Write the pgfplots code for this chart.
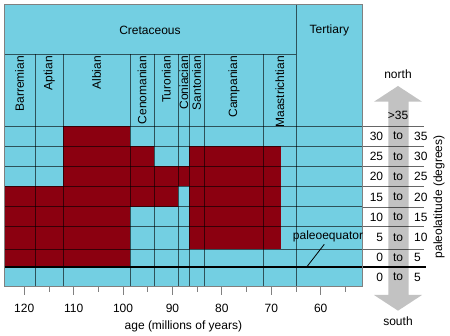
\documentclass[border=0pt]{standalone}
\usepackage{fontspec}
\setmainfont{Liberation Sans}
\usepackage{pgfplots}
\pgfplotsset{compat=1.18}
\definecolor{cyanc}{HTML}{73CFE2}
\definecolor{redc}{HTML}{8B0010}
\definecolor{arrowc}{HTML}{C2C2C2}
\tikzset{gl/.style={black, opacity=0.6, line width=0.8pt}}
\begin{document}
\fontsize{12}{14}\selectfont
\begin{tikzpicture}
\begin{axis}[name=ax, width=358.7pt, height=282.7pt, scale only axis,
  x dir=reverse, xmin=51.5, xmax=124.1, ymin=-4.89, ymax=65.26,
  axis background/.style={fill=cyanc},
  axis line style={draw=gray, line width=0.8pt},
  xtick={60,70,...,120}, minor xtick={55,65,...,115},
  xtick pos=left, tick align=outside,
  major tick length=8pt, minor tick length=5pt,
  every tick/.style={gray, line width=0.8pt},
  xticklabel style={yshift=-5pt},
  ytick=\empty,
  xlabel={age (millions of years)},
  /pgf/number format/assume math mode=true,
  clip=false, axis on top]
% red cells (age from, age to, lat from, lat to)
% 30-35
\addplot[fill=redc, draw=none] coordinates {(112.1,30) (98.6,30) (98.6,35) (112.1,35)} --cycle;
% 25-30
\addplot[fill=redc, draw=none] coordinates {(112.1,25) (93.7,25) (93.7,30) (112.1,30)} --cycle;
\addplot[fill=redc, draw=none] coordinates {(86.6,25) (68.1,25) (68.1,30) (86.6,30)} --cycle;
% 20-25
\addplot[fill=redc, draw=none] coordinates {(112.1,20) (68.1,20) (68.1,25) (112.1,25)} --cycle;
% 15-20
\addplot[fill=redc, draw=none] coordinates {(124.1,15) (88.8,15) (88.8,20) (124.1,20)} --cycle;
\addplot[fill=redc, draw=none] coordinates {(86.6,15) (68.1,15) (68.1,20) (86.6,20)} --cycle;
% 10-15
\addplot[fill=redc, draw=none] coordinates {(124.1,10) (98.6,10) (98.6,15) (124.1,15)} --cycle;
\addplot[fill=redc, draw=none] coordinates {(86.6,10) (68.1,10) (68.1,15) (86.6,15)} --cycle;
% 5-10
\addplot[fill=redc, draw=none] coordinates {(124.1,4.4) (98.6,4.4) (98.6,10) (124.1,10)} --cycle;
\addplot[fill=redc, draw=none] coordinates {(86.6,4.4) (68.1,4.4) (68.1,10) (86.6,10)} --cycle;
% 0-5
\addplot[fill=redc, draw=none] coordinates {(124.1,0) (98.6,0) (98.6,4.4) (124.1,4.4)} --cycle;
% horizontal grid lines
\addplot[gl] coordinates {(124.1,35) (51.5,35)};
\addplot[gl] coordinates {(124.1,30) (51.5,30)};
\addplot[gl] coordinates {(124.1,25) (51.5,25)};
\addplot[gl] coordinates {(124.1,20) (51.5,20)};
\addplot[gl] coordinates {(124.1,15) (51.5,15)};
\addplot[gl] coordinates {(124.1,10) (51.5,10)};
\addplot[gl] coordinates {(124.1,4.4) (51.5,4.4)};
\addplot[gl] coordinates {(124.1,52.85) (65,52.85)};
% stage boundaries
\addplot[gl] coordinates {(117.8,52.85) (117.8,-4.89)};
\addplot[gl] coordinates {(112.1,52.85) (112.1,-4.89)};
\addplot[gl] coordinates {(98.6,52.85) (98.6,-4.89)};
\addplot[gl] coordinates {(93.7,52.85) (93.7,-4.89)};
\addplot[gl] coordinates {(88.8,52.85) (88.8,-4.89)};
\addplot[gl] coordinates {(86.6,52.85) (86.6,-4.89)};
\addplot[gl] coordinates {(83.6,52.85) (83.6,-4.89)};
\addplot[gl] coordinates {(71.5,52.85) (71.5,-4.89)};
\addplot[gl] coordinates {(65,65.26) (65,-4.89)};
% paleoequator
\addplot[black, line width=2pt] coordinates {(124.1,0) (51.5,0)};
% labels
\node at (axis cs:94.55,58.8) {Cretaceous};
\node at (axis cs:58.25,58.8) {Tertiary};
\foreach \a/\t in {120.95/Barremian,114.95/Aptian,105.35/Albian,96.15/Cenomanian,91.25/Turonian,87.7/Coniacian,85.1/Santonian,77.55/Campanian,68.25/Maastrichtian}{
  \edef\tmp{\noexpand\node[rotate=90, anchor=east, inner sep=0pt] at (axis cs:\a,52.4) {\t};}\tmp
}
\end{axis}
\begin{scope}[shift={(ax.south west)}, xshift=-4pt, yshift=286.7pt, x=1pt, y=-1pt]
\fill[arrowc] (398,86) -- (422,101.7) -- (408.7,101.7) -- (408.7,295) -- (422,295) -- (398,310.7) -- (374,295) -- (388.3,295) -- (388.3,101.7) -- (374,101.7) -- cycle;
\foreach \y in {126,146,166.5,186.7,207,226.7,249.3}{
  \draw[black, opacity=0.6, line width=0.8pt] (362.7,\y) -- (424,\y);
}
\draw[black, line width=2pt] (362.7,267) -- (426,267);
\foreach \l/\r/\y in {30/35/136,25/30/156.5,20/25/176.8,15/20/197,10/15/217,5/10/237.5,0/5/257.8,0/5/277}{
  \node[anchor=east, inner sep=0pt] at (383.3,\y) {\l};
  \node[inner sep=0pt] at (398,\y) {to};
  \node[anchor=west, inner sep=0pt] at (414,\y) {\r};
}
\node at (398,74.7) {north};
\node at (398,321.7) {south};
\node[inner sep=0pt] at (398,115) {>35};
\node[rotate=90] at (439,196.7) {paleolatitude (degrees)};
\node at (328,236.7) {paleoequator};
\draw[black, line width=0.8pt] (324.3,244.3) -- (306.7,267);
\pgfresetboundingbox
\path[use as bounding box] (0,0) rectangle (450,336);
\end{scope}
\end{tikzpicture}
\end{document}
